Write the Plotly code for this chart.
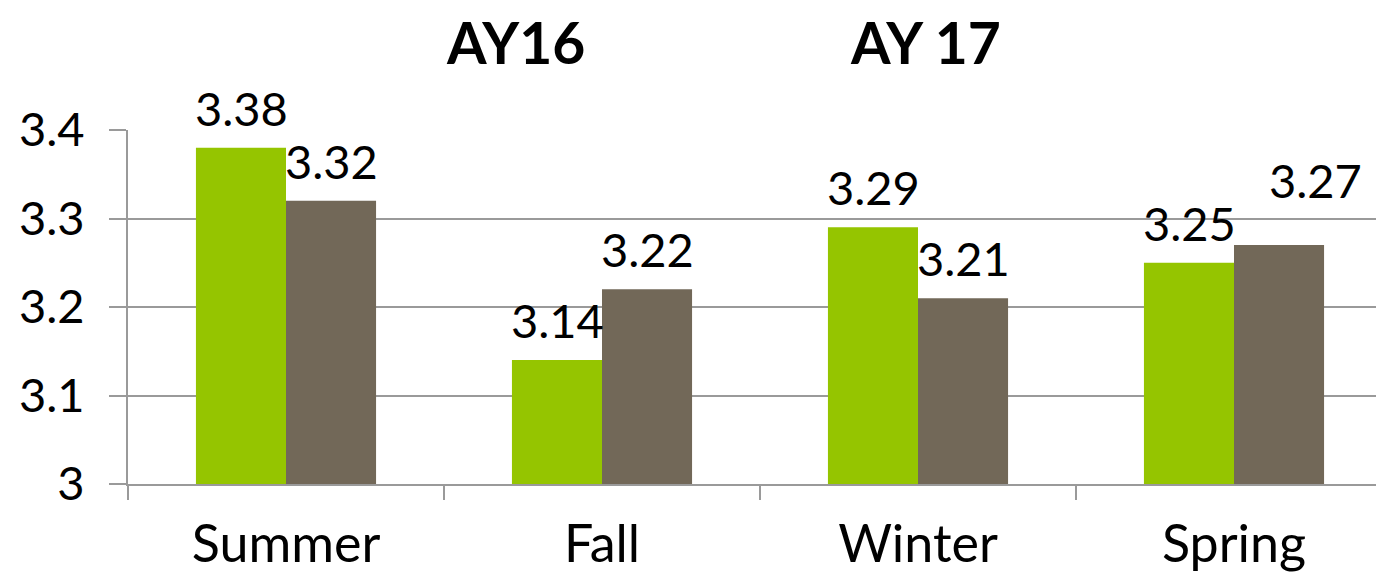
import plotly.graph_objects as go

seasons = ["Summer", "Fall", "Winter", "Spring"]
ay16 = [3.38, 3.14, 3.29, 3.25]
ay17 = [3.32, 3.22, 3.21, 3.27]
series_names = ["AY16", "AY 17"]
title_x = [515, 925]  # page x of the two series titles

green = "#95c500"
taupe = "#726858"
grid = "#9a9a9a"
font = "Lato"

# page has an 8px body margin, so the figure starts at (8, 8)
L, T, PW, PH = 120, 122, 1256, 354
CAT_W = 316  # px per category, the last one runs off the right edge

fig = go.Figure()
fig.add_trace(go.Bar(x=seasons, y=ay16, name=series_names[0], marker_color=green,
                     marker_line_width=0))
fig.add_trace(go.Bar(x=seasons, y=ay17, name=series_names[1], marker_color=taupe,
                     marker_line_width=0))

# bar value labels (Spring AY 17 label nudged off its neighbour, like the original)
nudge = {(1, "Spring"): (36, 25)}
for k, (vals, shift) in enumerate([(ay16, -45), (ay17, 45)]):
    for s, v in zip(seasons, vals):
        dx, dy = nudge.get((k, s), (0, 0))
        fig.add_annotation(x=s, y=v, text=f"{v:.2f}", showarrow=False,
                           xshift=shift + dx, yshift=10 + dy, yanchor="bottom",
                           font=dict(size=47, color="black", family=font))

# series titles at top
for name, xc in zip(series_names, title_x):
    fig.add_annotation(x=(xc - 8 - L) / PW, y=1 + (T - 34) / PH, xref="paper", yref="paper",
                       text=f"<b>{name}</b>", showarrow=False,
                       xanchor="center", yanchor="middle",
                       font=dict(size=57, color="black", family=font))

fig.update_layout(
    width=1376, height=564,
    margin=dict(l=L, r=0, t=T, b=564 - T - PH),
    paper_bgcolor="white", plot_bgcolor="white",
    barmode="group", bargap=0.43, bargroupgap=0,
    showlegend=False,
    font=dict(family=font, size=46, color="black"),
)

fig.update_xaxes(range=[-0.5, -0.5 + PW / CAT_W],
                 showline=True, linecolor=grid, linewidth=2, tickson="boundaries",
                 ticks="outside", ticklen=14, tickcolor=grid, tickwidth=2,
                 ticklabelstandoff=14, tickfont=dict(size=52))
fig.update_yaxes(range=[3, 3.4], dtick=0.1, tick0=3, showgrid=True, gridcolor=grid,
                 gridwidth=2, showline=True, linecolor=grid, linewidth=2,
                 ticks="outside", ticklen=17, tickcolor=grid, tickwidth=2,
                 ticklabelstandoff=15, tickfont=dict(size=47), zeroline=False)

fig.write_html("out.html")
